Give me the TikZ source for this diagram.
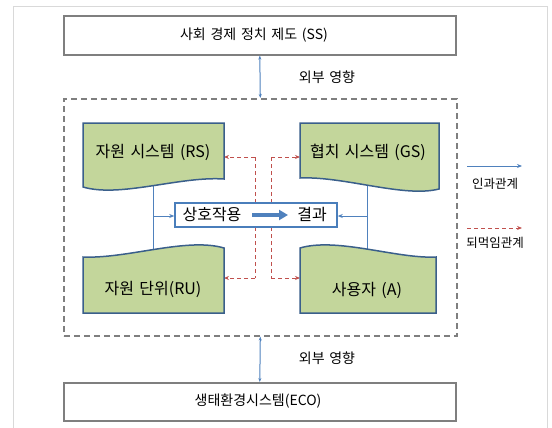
\documentclass[tikz,border=0pt]{standalone}
\usepackage{fontspec}
\setmainfont{Noto Sans CJK KR}
\newfontfamily\lblfont[WordSpace=2.2]{Noto Sans CJK KR}
\newfontfamily\bigfont[WordSpace=1.5]{Noto Sans CJK KR}
\usetikzlibrary{arrows.meta}
\definecolor{frameg}{HTML}{D9D9D9}
\definecolor{boxg}{HTML}{7F7F7F}
\definecolor{docfill}{HTML}{C3D69B}
\definecolor{docline}{HTML}{3A5F8B}
\definecolor{cause}{HTML}{4F81BD}
\definecolor{iaedge}{HTML}{4A7EBB}
\definecolor{fb}{HTML}{C0504D}
\begin{document}
\begin{tikzpicture}[x=1pt,y=-1pt,
  doc/.style={fill=docfill,draw=docline,line width=1.5pt},
  plainbox/.style={draw=boxg,line width=1.6pt,fill=white,inner sep=0pt,anchor=north west},
  sysbox/.style={draw=boxg,line width=1.6pt,dash pattern=on 6pt off 4pt,inner sep=0pt,anchor=north west},
  causal/.style={draw=cause,line width=1pt},
  causearr/.style={causal,-{Stealth[length=5pt,width=4pt]}},
  extarr/.style={causal,{Stealth[length=4pt,width=3pt]}-{Stealth[length=4pt,width=3pt]}},
  fbline/.style={draw=fb,line width=1pt,dash pattern=on 4pt off 3pt},
  fbarr/.style={fbline,-{Stealth[length=5pt,width=4pt]}},
  lbl/.style={inner sep=0pt,font=\lblfont\fontsize{14}{16}\selectfont},
  big/.style={inner sep=0pt,font=\bigfont\fontsize{16}{18}\selectfont},
  leg/.style={inner sep=0pt,font=\lblfont\fontsize{12.5}{14}\selectfont},
]
\useasboundingbox (0,0) rectangle (552,428);
\draw[frameg,line width=1pt] (13,428) -- (13,7) -- (547,7) -- (547,428);

% outer boxes
\node[plainbox,minimum width=392pt,minimum height=39pt] (ss) at (63,15) {};
\node[sysbox,minimum width=393pt,minimum height=237pt] (sys) at (63,98) {};
\node[plainbox,minimum width=392pt,minimum height=38pt] (eco) at (63,382) {};
\node[lbl] (sstext) at (254,35) {사회 경제 정치 제도 (SS)};
\node[lbl] (ecotext) at (258,401) {생태환경시스템(ECO)};
\draw[extarr] (ss.south) -- (sys.north);
\draw[extarr] (sys.south) -- (eco.north);
\node[lbl] (ext1) at (327,77) {외부 영향};
\node[lbl] (ext2) at (327,358) {외부 영향};

% attachment coordinates
\coordinate (rsE) at (224,157);
\coordinate (ruE) at (224,278);
\coordinate (gsW) at (300,157);
\coordinate (aW) at (300,278);
\coordinate (f1t) at (255,157);
\coordinate (f1b) at (255,278);
\coordinate (f2t) at (271,157);
\coordinate (f2b) at (271,278);

% feedback (behind the interaction box)
\draw[fbline] (f1t) -- (f1b);
\draw[fbline] (f2t) -- (f2b);
\draw[fbarr] (f1t) -- (rsE);
\draw[fbarr] (f1b) -- (ruE);
\draw[fbarr] (f2t) -- (gsW);
\draw[fbarr] (f2b) -- (aW);

% interaction box
\node[draw=iaedge,line width=1.5pt,fill=white,minimum width=162pt,minimum height=24pt,inner sep=0pt] (ia) at (256,215) {};
\node[big] (iat1) at (212,215) {상호작용};
\node[big] (iat2) at (312,215) {결과};
\coordinate (ta) at (252,215);
\coordinate (tb) at (288,215);
\draw[draw=cause,line width=3.5pt,-{Triangle[length=9pt,width=10pt]}] (ta) -- (tb);

% causal lines
\coordinate (rsB) at (153,182);
\coordinate (ruT) at (153,256);
\coordinate (gsB) at (367,182);
\coordinate (aT) at (367,256);
\coordinate (j1) at (153,216);
\coordinate (j2) at (367,216);
\draw[causal] (rsB) -- (ruT);
\draw[causal] (gsB) -- (aT);
\draw[causearr] (j1) -- (j1 -| ia.west);
\draw[causearr] (j2) -- (j2 -| ia.east);

% document shapes
\draw[doc] (83,187) -- (83,123) -- (224,123) -- (224,179)
  .. controls (180,176) and (120,198) .. (83,187) -- cycle;
\draw[doc] (300,178) -- (300,123) -- (439,123) -- (439,189)
  .. controls (404,198) and (344,176) .. (300,178) -- cycle;
\draw[doc] (83,257) .. controls (127,259) and (187,237) .. (224,248)
  -- (224,313) -- (83,313) -- cycle;
\draw[doc] (300,248) .. controls (337,237) and (397,259) .. (436,257)
  -- (436,313) -- (300,313) -- cycle;
\node[big] (rs) at (153,152) {자원 시스템 (RS)};
\node[big] (gs) at (368,152) {협치 시스템 (GS)};
\node[big] (ru) at (153,289) {자원 단위(RU)};
\node[big] (a) at (367,290) {사용자 (A)};

% legend
\coordinate (l1a) at (467,166);
\coordinate (l1b) at (522,166);
\coordinate (l2a) at (467,228);
\coordinate (l2b) at (522,228);
\draw[causearr] (l1a) -- (l1b);
\draw[fbarr] (l2a) -- (l2b);
\node[leg] (leg1) at (495,184) {인과관계};
\node[leg] (leg2) at (495,243) {되먹임관계};
\end{tikzpicture}
\end{document}
